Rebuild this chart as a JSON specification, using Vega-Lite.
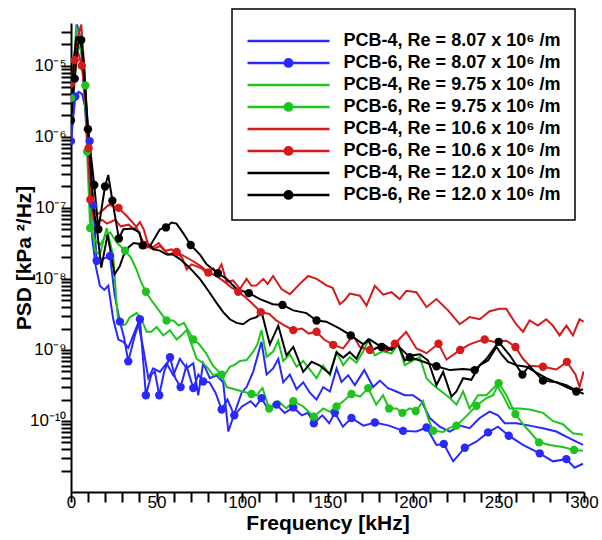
{
"$schema":"https://vega.github.io/schema/vega-lite/v6.json",
"width":513,"height":469,
"autosize":{"type":"none"},
"padding":{"left":71,"top":23,"right":18,"bottom":48},
"background":"white",
"config":{"view":{"stroke":null},"font":"Liberation Sans"},
"datasets":{
"psd":[
{"s":"PCB-4 8.07","f":0,"p":8e-7},{"s":"PCB-4 8.07","f":1.5,"p":6e-6},{"s":"PCB-4 8.07","f":3.5,"p":3.8e-5},{"s":"PCB-4 8.07","f":5.5,"p":2.5e-5},{"s":"PCB-4 8.07","f":7.5,"p":5e-6},{"s":"PCB-4 8.07","f":9.5,"p":8e-7},{"s":"PCB-4 8.07","f":11,"p":1.5e-7},{"s":"PCB-4 8.07","f":12.5,"p":3.6e-8},{"s":"PCB-4 8.07","f":14.5,"p":1.5e-8},{"s":"PCB-4 8.07","f":16.9,"p":8e-9},{"s":"PCB-4 8.07","f":19.5,"p":7e-9},{"s":"PCB-4 8.07","f":21.8,"p":8e-9},{"s":"PCB-4 8.07","f":24.7,"p":2.7e-9},{"s":"PCB-4 8.07","f":27.7,"p":1.4e-9},{"s":"PCB-4 8.07","f":30.6,"p":1.3e-9},{"s":"PCB-4 8.07","f":33.5,"p":1.07e-9},{"s":"PCB-4 8.07","f":36.4,"p":1.6e-9},{"s":"PCB-4 8.07","f":39.3,"p":2.4e-9},{"s":"PCB-4 8.07","f":42.2,"p":1.07e-9},{"s":"PCB-4 8.07","f":45.2,"p":4e-10},{"s":"PCB-4 8.07","f":48.1,"p":5.5e-10},{"s":"PCB-4 8.07","f":52,"p":4.9e-10},{"s":"PCB-4 8.07","f":55.9,"p":6.5e-10},{"s":"PCB-4 8.07","f":59.8,"p":4.4e-10},{"s":"PCB-4 8.07","f":63.7,"p":7.5e-10},{"s":"PCB-4 8.07","f":67.6,"p":5.5e-10},{"s":"PCB-4 8.07","f":71.5,"p":6.5e-10},{"s":"PCB-4 8.07","f":74.4,"p":2.3e-10},{"s":"PCB-4 8.07","f":77.3,"p":6.5e-10},{"s":"PCB-4 8.07","f":81.2,"p":4e-10},{"s":"PCB-4 8.07","f":85.1,"p":4.4e-10},{"s":"PCB-4 8.07","f":89,"p":3.5e-10},{"s":"PCB-4 8.07","f":92,"p":7.1e-11},{"s":"PCB-4 8.07","f":95.9,"p":1.35e-10},{"s":"PCB-4 8.07","f":99.8,"p":2.5e-10},{"s":"PCB-4 8.07","f":102.7,"p":3e-10},{"s":"PCB-4 8.07","f":106.6,"p":5e-10},{"s":"PCB-4 8.07","f":111.4,"p":1.3e-9},{"s":"PCB-4 8.07","f":114.4,"p":4.5e-10},{"s":"PCB-4 8.07","f":118.2,"p":5.5e-10},{"s":"PCB-4 8.07","f":121.2,"p":7.5e-10},{"s":"PCB-4 8.07","f":124.1,"p":3.5e-10},{"s":"PCB-4 8.07","f":128,"p":4.5e-10},{"s":"PCB-4 8.07","f":131.9,"p":2.8e-10},{"s":"PCB-4 8.07","f":135.8,"p":3.5e-10},{"s":"PCB-4 8.07","f":139.7,"p":2.5e-10},{"s":"PCB-4 8.07","f":143.6,"p":2e-10},{"s":"PCB-4 8.07","f":147.5,"p":3e-10},{"s":"PCB-4 8.07","f":151.4,"p":2.6e-10},{"s":"PCB-4 8.07","f":155.3,"p":5.5e-10},{"s":"PCB-4 8.07","f":158.2,"p":3.55e-10},{"s":"PCB-4 8.07","f":162.1,"p":4.4e-10},{"s":"PCB-4 8.07","f":166,"p":3.2e-10},{"s":"PCB-4 8.07","f":171.5,"p":5.2e-10},{"s":"PCB-4 8.07","f":176.7,"p":3e-10},{"s":"PCB-4 8.07","f":180.6,"p":3.7e-10},{"s":"PCB-4 8.07","f":185.4,"p":2.9e-10},{"s":"PCB-4 8.07","f":190.3,"p":2.6e-10},{"s":"PCB-4 8.07","f":195.2,"p":2.3e-10},{"s":"PCB-4 8.07","f":200,"p":2.3e-10},{"s":"PCB-4 8.07","f":204.9,"p":1.9e-10},{"s":"PCB-4 8.07","f":209.8,"p":1.1e-10},{"s":"PCB-4 8.07","f":215.6,"p":8.3e-11},{"s":"PCB-4 8.07","f":221.5,"p":7.1e-11},{"s":"PCB-4 8.07","f":227.3,"p":8.6e-11},{"s":"PCB-4 8.07","f":233.1,"p":7.9e-11},{"s":"PCB-4 8.07","f":239,"p":1.1e-10},{"s":"PCB-4 8.07","f":244.8,"p":1.35e-10},{"s":"PCB-4 8.07","f":249.7,"p":1.2e-10},{"s":"PCB-4 8.07","f":253.6,"p":9.3e-11},{"s":"PCB-4 8.07","f":260.5,"p":9.3e-11},{"s":"PCB-4 8.07","f":268.2,"p":8.6e-11},{"s":"PCB-4 8.07","f":276,"p":7.9e-11},{"s":"PCB-4 8.07","f":283.8,"p":7.1e-11},{"s":"PCB-4 8.07","f":291.6,"p":5.7e-11},{"s":"PCB-4 8.07","f":299.4,"p":4.6e-11},
{"s":"PCB-6 8.07","f":0,"p":8.7e-7},{"s":"PCB-6 8.07","f":2.5,"p":3.7e-6},{"s":"PCB-6 8.07","f":4.5,"p":4.3e-6},{"s":"PCB-6 8.07","f":6.5,"p":4e-6},{"s":"PCB-6 8.07","f":8.5,"p":2.5e-6},{"s":"PCB-6 8.07","f":10.9,"p":8.7e-7},{"s":"PCB-6 8.07","f":13,"p":1.1e-7},{"s":"PCB-6 8.07","f":15,"p":1.8e-8},{"s":"PCB-6 8.07","f":18.5,"p":1.9e-8},{"s":"PCB-6 8.07","f":22.8,"p":2.1e-8},{"s":"PCB-6 8.07","f":25.5,"p":6e-9},{"s":"PCB-6 8.07","f":28.6,"p":2.5e-9},{"s":"PCB-6 8.07","f":31,"p":1.5e-9},{"s":"PCB-6 8.07","f":33.5,"p":6.9e-10},{"s":"PCB-6 8.07","f":37,"p":1.5e-9},{"s":"PCB-6 8.07","f":40.3,"p":2.7e-9},{"s":"PCB-6 8.07","f":43.8,"p":2.3e-10},{"s":"PCB-6 8.07","f":47,"p":4.5e-10},{"s":"PCB-6 8.07","f":49,"p":5e-10},{"s":"PCB-6 8.07","f":51.6,"p":2.3e-10},{"s":"PCB-6 8.07","f":54.5,"p":5e-10},{"s":"PCB-6 8.07","f":57.9,"p":7.9e-10},{"s":"PCB-6 8.07","f":61,"p":4e-10},{"s":"PCB-6 8.07","f":64.1,"p":3e-10},{"s":"PCB-6 8.07","f":67.5,"p":6e-10},{"s":"PCB-6 8.07","f":71.5,"p":2.9e-10},{"s":"PCB-6 8.07","f":74.5,"p":4.5e-10},{"s":"PCB-6 8.07","f":77.3,"p":3.6e-10},{"s":"PCB-6 8.07","f":81,"p":3.5e-10},{"s":"PCB-6 8.07","f":84.5,"p":2.5e-10},{"s":"PCB-6 8.07","f":88.1,"p":1.45e-10},{"s":"PCB-6 8.07","f":91.5,"p":2e-10},{"s":"PCB-6 8.07","f":95.5,"p":1.2e-10},{"s":"PCB-6 8.07","f":100,"p":1.6e-10},{"s":"PCB-6 8.07","f":105,"p":1.9e-10},{"s":"PCB-6 8.07","f":108,"p":1.6e-10},{"s":"PCB-6 8.07","f":111.4,"p":2.1e-10},{"s":"PCB-6 8.07","f":115,"p":1.5e-10},{"s":"PCB-6 8.07","f":120.2,"p":1.7e-10},{"s":"PCB-6 8.07","f":125,"p":1.3e-10},{"s":"PCB-6 8.07","f":130,"p":1.55e-10},{"s":"PCB-6 8.07","f":135,"p":1.2e-10},{"s":"PCB-6 8.07","f":138.5,"p":1.3e-10},{"s":"PCB-6 8.07","f":142,"p":9.3e-11},{"s":"PCB-6 8.07","f":147,"p":1.2e-10},{"s":"PCB-6 8.07","f":151,"p":9.3e-11},{"s":"PCB-6 8.07","f":154.3,"p":1.3e-10},{"s":"PCB-6 8.07","f":159,"p":8.3e-11},{"s":"PCB-6 8.07","f":164,"p":1.1e-10},{"s":"PCB-6 8.07","f":171,"p":8.6e-11},{"s":"PCB-6 8.07","f":177.7,"p":9.5e-11},{"s":"PCB-6 8.07","f":186,"p":8.6e-11},{"s":"PCB-6 8.07","f":194.2,"p":7.25e-11},{"s":"PCB-6 8.07","f":202,"p":7.1e-11},{"s":"PCB-6 8.07","f":207.9,"p":8.1e-11},{"s":"PCB-6 8.07","f":213.7,"p":4.6e-11},{"s":"PCB-6 8.07","f":218,"p":4.75e-11},{"s":"PCB-6 8.07","f":223.5,"p":2.7e-11},{"s":"PCB-6 8.07","f":230.3,"p":4.2e-11},{"s":"PCB-6 8.07","f":237,"p":5.1e-11},{"s":"PCB-6 8.07","f":243.9,"p":6.9e-11},{"s":"PCB-6 8.07","f":249.7,"p":8.3e-11},{"s":"PCB-6 8.07","f":256,"p":6.2e-11},{"s":"PCB-6 8.07","f":264.3,"p":4.6e-11},{"s":"PCB-6 8.07","f":274.1,"p":3.5e-11},{"s":"PCB-6 8.07","f":281.8,"p":2.7e-11},{"s":"PCB-6 8.07","f":289.7,"p":2.9e-11},{"s":"PCB-6 8.07","f":294.5,"p":2.2e-11},{"s":"PCB-6 8.07","f":299.4,"p":2.5e-11},
{"s":"PCB-4 9.75","f":0,"p":1.5e-6},{"s":"PCB-4 9.75","f":1.5,"p":8e-6},{"s":"PCB-4 9.75","f":3,"p":3.5e-5},{"s":"PCB-4 9.75","f":5,"p":2.8e-5},{"s":"PCB-4 9.75","f":7,"p":1e-5},{"s":"PCB-4 9.75","f":9,"p":1.5e-6},{"s":"PCB-4 9.75","f":11,"p":2e-7},{"s":"PCB-4 9.75","f":12.5,"p":5e-8},{"s":"PCB-4 9.75","f":14,"p":2.5e-8},{"s":"PCB-4 9.75","f":17,"p":2.2e-8},{"s":"PCB-4 9.75","f":19,"p":3.5e-8},{"s":"PCB-4 9.75","f":20.9,"p":5.2e-8},{"s":"PCB-4 9.75","f":22.5,"p":3.5e-8},{"s":"PCB-4 9.75","f":24.7,"p":2.1e-8},{"s":"PCB-4 9.75","f":26.5,"p":5e-9},{"s":"PCB-4 9.75","f":27.7,"p":2.4e-9},{"s":"PCB-4 9.75","f":29.6,"p":2.2e-9},{"s":"PCB-4 9.75","f":32,"p":2.3e-9},{"s":"PCB-4 9.75","f":34.5,"p":2.9e-9},{"s":"PCB-4 9.75","f":38.4,"p":3.3e-9},{"s":"PCB-4 9.75","f":41,"p":2.8e-9},{"s":"PCB-4 9.75","f":44.2,"p":1.8e-9},{"s":"PCB-4 9.75","f":47,"p":1.8e-9},{"s":"PCB-4 9.75","f":50.1,"p":2.1e-9},{"s":"PCB-4 9.75","f":54,"p":1.6e-9},{"s":"PCB-4 9.75","f":57.8,"p":1.9e-9},{"s":"PCB-4 9.75","f":61.8,"p":1.4e-9},{"s":"PCB-4 9.75","f":64.5,"p":1.6e-9},{"s":"PCB-4 9.75","f":67.6,"p":1.9e-9},{"s":"PCB-4 9.75","f":70.5,"p":1.2e-9},{"s":"PCB-4 9.75","f":73.5,"p":7.5e-10},{"s":"PCB-4 9.75","f":77.3,"p":6.5e-10},{"s":"PCB-4 9.75","f":80.2,"p":5.5e-10},{"s":"PCB-4 9.75","f":83.2,"p":4.4e-10},{"s":"PCB-4 9.75","f":86,"p":4.6e-10},{"s":"PCB-4 9.75","f":89,"p":4.2e-10},{"s":"PCB-4 9.75","f":92.9,"p":5.8e-10},{"s":"PCB-4 9.75","f":95.8,"p":6.2e-10},{"s":"PCB-4 9.75","f":98.8,"p":7e-10},{"s":"PCB-4 9.75","f":102.7,"p":7.2e-10},{"s":"PCB-4 9.75","f":106.6,"p":9.5e-10},{"s":"PCB-4 9.75","f":109,"p":1.2e-9},{"s":"PCB-4 9.75","f":111.4,"p":1.9e-9},{"s":"PCB-4 9.75","f":114.4,"p":8e-10},{"s":"PCB-4 9.75","f":118.2,"p":9.5e-10},{"s":"PCB-4 9.75","f":121.2,"p":1.35e-9},{"s":"PCB-4 9.75","f":124.1,"p":7e-10},{"s":"PCB-4 9.75","f":128,"p":8.7e-10},{"s":"PCB-4 9.75","f":131.9,"p":5.8e-10},{"s":"PCB-4 9.75","f":135.8,"p":7e-10},{"s":"PCB-4 9.75","f":139.7,"p":5.3e-10},{"s":"PCB-4 9.75","f":143.6,"p":4e-10},{"s":"PCB-4 9.75","f":147.5,"p":6e-10},{"s":"PCB-4 9.75","f":151.4,"p":4.4e-10},{"s":"PCB-4 9.75","f":155.3,"p":9.3e-10},{"s":"PCB-4 9.75","f":159.2,"p":6.1e-10},{"s":"PCB-4 9.75","f":163,"p":7.9e-10},{"s":"PCB-4 9.75","f":166.9,"p":6.6e-10},{"s":"PCB-4 9.75","f":170.9,"p":9.6e-10},{"s":"PCB-4 9.75","f":173.8,"p":1.36e-9},{"s":"PCB-4 9.75","f":177.7,"p":8.4e-10},{"s":"PCB-4 9.75","f":182.5,"p":9.6e-10},{"s":"PCB-4 9.75","f":187.4,"p":8.9e-10},{"s":"PCB-4 9.75","f":191.3,"p":1.2e-9},{"s":"PCB-4 9.75","f":195.2,"p":6.1e-10},{"s":"PCB-4 9.75","f":200,"p":7.1e-10},{"s":"PCB-4 9.75","f":204,"p":7.9e-10},{"s":"PCB-4 9.75","f":207.9,"p":4e-10},{"s":"PCB-4 9.75","f":211.8,"p":3.2e-10},{"s":"PCB-4 9.75","f":216.7,"p":2.6e-10},{"s":"PCB-4 9.75","f":221.5,"p":2.1e-10},{"s":"PCB-4 9.75","f":225.4,"p":1.7e-10},{"s":"PCB-4 9.75","f":229.3,"p":2.6e-10},{"s":"PCB-4 9.75","f":233.1,"p":1.5e-10},{"s":"PCB-4 9.75","f":238,"p":2.3e-10},{"s":"PCB-4 9.75","f":242.9,"p":2.3e-10},{"s":"PCB-4 9.75","f":248.8,"p":3.2e-10},{"s":"PCB-4 9.75","f":252.6,"p":2.3e-10},{"s":"PCB-4 9.75","f":256.5,"p":1.5e-10},{"s":"PCB-4 9.75","f":262.4,"p":1.5e-10},{"s":"PCB-4 9.75","f":268.2,"p":1.45e-10},{"s":"PCB-4 9.75","f":276,"p":1.3e-10},{"s":"PCB-4 9.75","f":281.8,"p":1e-10},{"s":"PCB-4 9.75","f":287.6,"p":9e-11},{"s":"PCB-4 9.75","f":293.5,"p":6.7e-11},{"s":"PCB-4 9.75","f":299.4,"p":6.4e-11},
{"s":"PCB-6 9.75","f":0,"p":3.5e-6},{"s":"PCB-6 9.75","f":2.2,"p":8e-6},{"s":"PCB-6 9.75","f":4.3,"p":2e-5},{"s":"PCB-6 9.75","f":6.3,"p":1.5e-5},{"s":"PCB-6 9.75","f":8.4,"p":5.3e-6},{"s":"PCB-6 9.75","f":9.4,"p":6.2e-7},{"s":"PCB-6 9.75","f":11.2,"p":5.2e-8},{"s":"PCB-6 9.75","f":14,"p":3.5e-8},{"s":"PCB-6 9.75","f":17,"p":3e-8},{"s":"PCB-6 9.75","f":20,"p":4e-8},{"s":"PCB-6 9.75","f":23,"p":4.5e-8},{"s":"PCB-6 9.75","f":27,"p":3.2e-8},{"s":"PCB-6 9.75","f":31.6,"p":2.5e-8},{"s":"PCB-6 9.75","f":35,"p":2e-8},{"s":"PCB-6 9.75","f":38,"p":1.4e-8},{"s":"PCB-6 9.75","f":41,"p":9e-9},{"s":"PCB-6 9.75","f":43.8,"p":6.6e-9},{"s":"PCB-6 9.75","f":47,"p":5e-9},{"s":"PCB-6 9.75","f":50,"p":4e-9},{"s":"PCB-6 9.75","f":53,"p":3.2e-9},{"s":"PCB-6 9.75","f":55.9,"p":2.6e-9},{"s":"PCB-6 9.75","f":60,"p":2.6e-9},{"s":"PCB-6 9.75","f":63,"p":2.2e-9},{"s":"PCB-6 9.75","f":66,"p":2.4e-9},{"s":"PCB-6 9.75","f":69,"p":1.8e-9},{"s":"PCB-6 9.75","f":71.5,"p":1.4e-9},{"s":"PCB-6 9.75","f":75,"p":1.2e-9},{"s":"PCB-6 9.75","f":79,"p":9e-10},{"s":"PCB-6 9.75","f":83,"p":6e-10},{"s":"PCB-6 9.75","f":88,"p":4.5e-10},{"s":"PCB-6 9.75","f":91,"p":3e-10},{"s":"PCB-6 9.75","f":105.6,"p":2.4e-10},{"s":"PCB-6 9.75","f":108.5,"p":2.3e-10},{"s":"PCB-6 9.75","f":112,"p":2.9e-10},{"s":"PCB-6 9.75","f":115.9,"p":1.5e-10},{"s":"PCB-6 9.75","f":121.2,"p":1.9e-10},{"s":"PCB-6 9.75","f":126,"p":1.5e-10},{"s":"PCB-6 9.75","f":130,"p":1.9e-10},{"s":"PCB-6 9.75","f":135.8,"p":1.6e-10},{"s":"PCB-6 9.75","f":142,"p":1.15e-10},{"s":"PCB-6 9.75","f":147.5,"p":1.5e-10},{"s":"PCB-6 9.75","f":151.4,"p":1.35e-10},{"s":"PCB-6 9.75","f":155.3,"p":1.6e-10},{"s":"PCB-6 9.75","f":159.2,"p":1.9e-10},{"s":"PCB-6 9.75","f":164,"p":2.4e-10},{"s":"PCB-6 9.75","f":169,"p":2.2e-10},{"s":"PCB-6 9.75","f":173.8,"p":2.9e-10},{"s":"PCB-6 9.75","f":178.5,"p":1.7e-10},{"s":"PCB-6 9.75","f":182.5,"p":2.3e-10},{"s":"PCB-6 9.75","f":186,"p":1.5e-10},{"s":"PCB-6 9.75","f":190.3,"p":1.5e-10},{"s":"PCB-6 9.75","f":193.8,"p":1.3e-10},{"s":"PCB-6 9.75","f":198.1,"p":1.5e-10},{"s":"PCB-6 9.75","f":201.6,"p":1.38e-10},{"s":"PCB-6 9.75","f":205.9,"p":1.9e-10},{"s":"PCB-6 9.75","f":208.8,"p":1.1e-10},{"s":"PCB-6 9.75","f":211.8,"p":7.3e-11},{"s":"PCB-6 9.75","f":217.6,"p":7e-11},{"s":"PCB-6 9.75","f":221.5,"p":8e-11},{"s":"PCB-6 9.75","f":225.4,"p":8.6e-11},{"s":"PCB-6 9.75","f":231.2,"p":1.17e-10},{"s":"PCB-6 9.75","f":237.1,"p":1.64e-10},{"s":"PCB-6 9.75","f":243,"p":2.1e-10},{"s":"PCB-6 9.75","f":246.9,"p":2.3e-10},{"s":"PCB-6 9.75","f":250.1,"p":3.4e-10},{"s":"PCB-6 9.75","f":254.6,"p":2.3e-10},{"s":"PCB-6 9.75","f":259.9,"p":1.25e-10},{"s":"PCB-6 9.75","f":264.3,"p":9e-11},{"s":"PCB-6 9.75","f":268.2,"p":7.1e-11},{"s":"PCB-6 9.75","f":273.7,"p":5e-11},{"s":"PCB-6 9.75","f":279.9,"p":4.6e-11},{"s":"PCB-6 9.75","f":287.6,"p":4.3e-11},{"s":"PCB-6 9.75","f":294.2,"p":3.9e-11},{"s":"PCB-6 9.75","f":299.4,"p":3.8e-11},
{"s":"PCB-4 10.6","f":0,"p":3e-6},{"s":"PCB-4 10.6","f":2,"p":1.5e-5},{"s":"PCB-4 10.6","f":4,"p":2.5e-5},{"s":"PCB-4 10.6","f":6,"p":3.8e-5},{"s":"PCB-4 10.6","f":8,"p":8e-6},{"s":"PCB-4 10.6","f":10,"p":5e-7},{"s":"PCB-4 10.6","f":12,"p":1.2e-7},{"s":"PCB-4 10.6","f":13.2,"p":6.8e-8},{"s":"PCB-4 10.6","f":16,"p":6.2e-8},{"s":"PCB-4 10.6","f":18.1,"p":6.8e-8},{"s":"PCB-4 10.6","f":21,"p":6e-8},{"s":"PCB-4 10.6","f":25.9,"p":6.8e-8},{"s":"PCB-4 10.6","f":29,"p":5.5e-8},{"s":"PCB-4 10.6","f":33.7,"p":5.8e-8},{"s":"PCB-4 10.6","f":37,"p":5e-8},{"s":"PCB-4 10.6","f":40.3,"p":6.3e-8},{"s":"PCB-4 10.6","f":42.5,"p":5e-8},{"s":"PCB-4 10.6","f":45.2,"p":3e-8},{"s":"PCB-4 10.6","f":48.1,"p":2.8e-8},{"s":"PCB-4 10.6","f":51.3,"p":3.2e-8},{"s":"PCB-4 10.6","f":55,"p":2.5e-8},{"s":"PCB-4 10.6","f":59,"p":2.6e-8},{"s":"PCB-4 10.6","f":62,"p":2.3e-8},{"s":"PCB-4 10.6","f":65,"p":2e-8},{"s":"PCB-4 10.6","f":67.6,"p":1.36e-8},{"s":"PCB-4 10.6","f":70.5,"p":1.6e-8},{"s":"PCB-4 10.6","f":73.5,"p":1.5e-8},{"s":"PCB-4 10.6","f":76.5,"p":1.4e-8},{"s":"PCB-4 10.6","f":79.4,"p":1.2e-8},{"s":"PCB-4 10.6","f":83.3,"p":1.4e-8},{"s":"PCB-4 10.6","f":85.2,"p":1.2e-8},{"s":"PCB-4 10.6","f":88,"p":1.6e-8},{"s":"PCB-4 10.6","f":91,"p":9e-9},{"s":"PCB-4 10.6","f":94.8,"p":9.5e-9},{"s":"PCB-4 10.6","f":98.8,"p":7.2e-9},{"s":"PCB-4 10.6","f":102.7,"p":1e-8},{"s":"PCB-4 10.6","f":105.5,"p":8e-9},{"s":"PCB-4 10.6","f":108.5,"p":8.1e-9},{"s":"PCB-4 10.6","f":112.4,"p":1e-8},{"s":"PCB-4 10.6","f":115,"p":8.5e-9},{"s":"PCB-4 10.6","f":118.2,"p":1.1e-8},{"s":"PCB-4 10.6","f":123.1,"p":7.2e-9},{"s":"PCB-4 10.6","f":128,"p":6.1e-9},{"s":"PCB-4 10.6","f":133.8,"p":8.5e-9},{"s":"PCB-4 10.6","f":138.7,"p":1.1e-8},{"s":"PCB-4 10.6","f":143.6,"p":1e-8},{"s":"PCB-4 10.6","f":149.4,"p":8.1e-9},{"s":"PCB-4 10.6","f":153,"p":7.5e-9},{"s":"PCB-4 10.6","f":157.2,"p":4.4e-9},{"s":"PCB-4 10.6","f":160,"p":5e-9},{"s":"PCB-4 10.6","f":163,"p":6.2e-9},{"s":"PCB-4 10.6","f":168.9,"p":5.8e-9},{"s":"PCB-4 10.6","f":172.8,"p":4.2e-9},{"s":"PCB-4 10.6","f":177.7,"p":8e-9},{"s":"PCB-4 10.6","f":182.5,"p":6e-9},{"s":"PCB-4 10.6","f":187.4,"p":6.5e-9},{"s":"PCB-4 10.6","f":192.2,"p":5.2e-9},{"s":"PCB-4 10.6","f":196.1,"p":6.8e-9},{"s":"PCB-4 10.6","f":202,"p":6.5e-9},{"s":"PCB-4 10.6","f":207.9,"p":4e-9},{"s":"PCB-4 10.6","f":213.7,"p":5.2e-9},{"s":"PCB-4 10.6","f":220.5,"p":3.6e-9},{"s":"PCB-4 10.6","f":227.3,"p":2.3e-9},{"s":"PCB-4 10.6","f":233.1,"p":2.9e-9},{"s":"PCB-4 10.6","f":239,"p":2.7e-9},{"s":"PCB-4 10.6","f":244.8,"p":3.5e-9},{"s":"PCB-4 10.6","f":250.6,"p":3.8e-9},{"s":"PCB-4 10.6","f":254.5,"p":3.8e-9},{"s":"PCB-4 10.6","f":260.3,"p":2.3e-9},{"s":"PCB-4 10.6","f":264.3,"p":1.8e-9},{"s":"PCB-4 10.6","f":268.2,"p":2.6e-9},{"s":"PCB-4 10.6","f":273,"p":2.2e-9},{"s":"PCB-4 10.6","f":277.9,"p":2.7e-9},{"s":"PCB-4 10.6","f":281.8,"p":2.2e-9},{"s":"PCB-4 10.6","f":285.7,"p":1.6e-9},{"s":"PCB-4 10.6","f":289.7,"p":2.2e-9},{"s":"PCB-4 10.6","f":293.5,"p":1.6e-9},{"s":"PCB-4 10.6","f":297.4,"p":2.7e-9},{"s":"PCB-4 10.6","f":299.8,"p":2.5e-9},
{"s":"PCB-6 10.6","f":0,"p":5.6e-6},{"s":"PCB-6 10.6","f":2.2,"p":1.2e-5},{"s":"PCB-6 10.6","f":4.3,"p":1.5e-5},{"s":"PCB-6 10.6","f":6.3,"p":1e-5},{"s":"PCB-6 10.6","f":8.3,"p":4e-6},{"s":"PCB-6 10.6","f":10.3,"p":6.9e-7},{"s":"PCB-6 10.6","f":11.3,"p":1.3e-7},{"s":"PCB-6 10.6","f":15,"p":8e-8},{"s":"PCB-6 10.6","f":18,"p":9e-8},{"s":"PCB-6 10.6","f":22,"p":1.1e-7},{"s":"PCB-6 10.6","f":27.8,"p":1e-7},{"s":"PCB-6 10.6","f":33,"p":7.5e-8},{"s":"PCB-6 10.6","f":38,"p":5.5e-8},{"s":"PCB-6 10.6","f":43,"p":3e-8},{"s":"PCB-6 10.6","f":48,"p":2.6e-8},{"s":"PCB-6 10.6","f":52,"p":2.9e-8},{"s":"PCB-6 10.6","f":57,"p":2.2e-8},{"s":"PCB-6 10.6","f":61.8,"p":2.4e-8},{"s":"PCB-6 10.6","f":66,"p":2.1e-8},{"s":"PCB-6 10.6","f":71,"p":1.8e-8},{"s":"PCB-6 10.6","f":76,"p":1.5e-8},{"s":"PCB-6 10.6","f":80.3,"p":1.23e-8},{"s":"PCB-6 10.6","f":85,"p":1.1e-8},{"s":"PCB-6 10.6","f":90,"p":9e-9},{"s":"PCB-6 10.6","f":94,"p":7.5e-9},{"s":"PCB-6 10.6","f":97.8,"p":6.6e-9},{"s":"PCB-6 10.6","f":102,"p":5.5e-9},{"s":"PCB-6 10.6","f":106,"p":4.5e-9},{"s":"PCB-6 10.6","f":111,"p":3.4e-9},{"s":"PCB-6 10.6","f":116,"p":3.2e-9},{"s":"PCB-6 10.6","f":120,"p":2.6e-9},{"s":"PCB-6 10.6","f":125,"p":2.2e-9},{"s":"PCB-6 10.6","f":130,"p":1.9e-9},{"s":"PCB-6 10.6","f":135,"p":2e-9},{"s":"PCB-6 10.6","f":139,"p":1.7e-9},{"s":"PCB-6 10.6","f":143.6,"p":1.8e-9},{"s":"PCB-6 10.6","f":148,"p":1.4e-9},{"s":"PCB-6 10.6","f":153.3,"p":1.18e-9},{"s":"PCB-6 10.6","f":159.2,"p":1.05e-9},{"s":"PCB-6 10.6","f":165,"p":1.6e-9},{"s":"PCB-6 10.6","f":168.9,"p":1.1e-9},{"s":"PCB-6 10.6","f":174.8,"p":1e-9},{"s":"PCB-6 10.6","f":180.6,"p":1.1e-9},{"s":"PCB-6 10.6","f":184.5,"p":9.5e-10},{"s":"PCB-6 10.6","f":189.4,"p":1.22e-9},{"s":"PCB-6 10.6","f":196,"p":1.8e-9},{"s":"PCB-6 10.6","f":202,"p":1.05e-9},{"s":"PCB-6 10.6","f":207.9,"p":9e-10},{"s":"PCB-6 10.6","f":214.9,"p":1.22e-9},{"s":"PCB-6 10.6","f":219.6,"p":7.3e-10},{"s":"PCB-6 10.6","f":227.6,"p":1e-9},{"s":"PCB-6 10.6","f":233.1,"p":1.2e-9},{"s":"PCB-6 10.6","f":237,"p":1.3e-9},{"s":"PCB-6 10.6","f":241.9,"p":1.4e-9},{"s":"PCB-6 10.6","f":246.8,"p":1.3e-9},{"s":"PCB-6 10.6","f":254.6,"p":1.35e-9},{"s":"PCB-6 10.6","f":259.9,"p":1.1e-9},{"s":"PCB-6 10.6","f":264.3,"p":7.5e-10},{"s":"PCB-6 10.6","f":268.2,"p":6e-10},{"s":"PCB-6 10.6","f":276,"p":5.8e-10},{"s":"PCB-6 10.6","f":283.8,"p":5.3e-10},{"s":"PCB-6 10.6","f":290,"p":6.8e-10},{"s":"PCB-6 10.6","f":295,"p":4.5e-10},{"s":"PCB-6 10.6","f":297.4,"p":3e-10},{"s":"PCB-6 10.6","f":299.8,"p":5e-10},
{"s":"PCB-4 12.0","f":0,"p":2e-6},{"s":"PCB-4 12.0","f":1.5,"p":1e-5},{"s":"PCB-4 12.0","f":3,"p":2.5e-5},{"s":"PCB-4 12.0","f":5,"p":2.5e-5},{"s":"PCB-4 12.0","f":7,"p":1.5e-5},{"s":"PCB-4 12.0","f":9,"p":3e-6},{"s":"PCB-4 12.0","f":11,"p":5e-7},{"s":"PCB-4 12.0","f":13.2,"p":9.4e-8},{"s":"PCB-4 12.0","f":15.2,"p":5e-8},{"s":"PCB-4 12.0","f":17.7,"p":1.44e-8},{"s":"PCB-4 12.0","f":21.4,"p":4.2e-8},{"s":"PCB-4 12.0","f":25.5,"p":1.16e-8},{"s":"PCB-4 12.0","f":28.5,"p":1.5e-8},{"s":"PCB-4 12.0","f":30.6,"p":2.1e-8},{"s":"PCB-4 12.0","f":33.7,"p":2.8e-8},{"s":"PCB-4 12.0","f":36.6,"p":3.2e-8},{"s":"PCB-4 12.0","f":40.3,"p":3.1e-8},{"s":"PCB-4 12.0","f":43.4,"p":3.1e-8},{"s":"PCB-4 12.0","f":46,"p":3e-8},{"s":"PCB-4 12.0","f":48.3,"p":2.6e-8},{"s":"PCB-4 12.0","f":52,"p":2.5e-8},{"s":"PCB-4 12.0","f":55.9,"p":2.2e-8},{"s":"PCB-4 12.0","f":59.8,"p":2.2e-8},{"s":"PCB-4 12.0","f":63.7,"p":1.9e-8},{"s":"PCB-4 12.0","f":68.6,"p":1.5e-8},{"s":"PCB-4 12.0","f":75.4,"p":1e-8},{"s":"PCB-4 12.0","f":80.3,"p":6.8e-9},{"s":"PCB-4 12.0","f":85.1,"p":4.6e-9},{"s":"PCB-4 12.0","f":89,"p":3.4e-9},{"s":"PCB-4 12.0","f":92.9,"p":2.7e-9},{"s":"PCB-4 12.0","f":96.8,"p":2.4e-9},{"s":"PCB-4 12.0","f":100.6,"p":2.3e-9},{"s":"PCB-4 12.0","f":104.6,"p":2.7e-9},{"s":"PCB-4 12.0","f":108.5,"p":2.9e-9},{"s":"PCB-4 12.0","f":111.5,"p":3.4e-9},{"s":"PCB-4 12.0","f":114.4,"p":1.8e-9},{"s":"PCB-4 12.0","f":116.3,"p":1.2e-9},{"s":"PCB-4 12.0","f":121.2,"p":2.2e-9},{"s":"PCB-4 12.0","f":126,"p":8.4e-10},{"s":"PCB-4 12.0","f":130,"p":1.1e-9},{"s":"PCB-4 12.0","f":135.8,"p":4.9e-10},{"s":"PCB-4 12.0","f":140.7,"p":6.8e-10},{"s":"PCB-4 12.0","f":145.6,"p":6e-10},{"s":"PCB-4 12.0","f":151.4,"p":4.6e-10},{"s":"PCB-4 12.0","f":155.3,"p":9.3e-10},{"s":"PCB-4 12.0","f":159.2,"p":7.8e-10},{"s":"PCB-4 12.0","f":163,"p":9.3e-10},{"s":"PCB-4 12.0","f":166.9,"p":7.5e-10},{"s":"PCB-4 12.0","f":170.9,"p":1.2e-9},{"s":"PCB-4 12.0","f":173.8,"p":1.4e-9},{"s":"PCB-4 12.0","f":176.7,"p":1e-9},{"s":"PCB-4 12.0","f":182.5,"p":1.2e-9},{"s":"PCB-4 12.0","f":187.4,"p":1e-9},{"s":"PCB-4 12.0","f":191.3,"p":1.2e-9},{"s":"PCB-4 12.0","f":195.2,"p":7.1e-10},{"s":"PCB-4 12.0","f":200,"p":8.4e-10},{"s":"PCB-4 12.0","f":204,"p":8.7e-10},{"s":"PCB-4 12.0","f":208.8,"p":7.1e-10},{"s":"PCB-4 12.0","f":213.7,"p":3.2e-10},{"s":"PCB-4 12.0","f":217.6,"p":4.9e-10},{"s":"PCB-4 12.0","f":222.5,"p":2.2e-10},{"s":"PCB-4 12.0","f":225.4,"p":2.6e-10},{"s":"PCB-4 12.0","f":229.3,"p":4e-10},{"s":"PCB-4 12.0","f":234.1,"p":3.8e-10},{"s":"PCB-4 12.0","f":239,"p":6.1e-10},{"s":"PCB-4 12.0","f":243.9,"p":7.1e-10},{"s":"PCB-4 12.0","f":248.8,"p":1.1e-9},{"s":"PCB-4 12.0","f":251.7,"p":8.7e-10},{"s":"PCB-4 12.0","f":255.6,"p":6.8e-10},{"s":"PCB-4 12.0","f":260.5,"p":6.1e-10},{"s":"PCB-4 12.0","f":266.3,"p":5.8e-10},{"s":"PCB-4 12.0","f":272.1,"p":4.8e-10},{"s":"PCB-4 12.0","f":278,"p":4e-10},{"s":"PCB-4 12.0","f":283.8,"p":3.5e-10},{"s":"PCB-4 12.0","f":289.7,"p":3.2e-10},{"s":"PCB-4 12.0","f":295.5,"p":2.7e-10},{"s":"PCB-4 12.0","f":299.8,"p":2.4e-10},
{"s":"PCB-6 12.0","f":0,"p":1.7e-6},{"s":"PCB-6 12.0","f":2.2,"p":6.6e-6},{"s":"PCB-6 12.0","f":4,"p":2e-5},{"s":"PCB-6 12.0","f":6,"p":2.3e-5},{"s":"PCB-6 12.0","f":9.9,"p":1.28e-6},{"s":"PCB-6 12.0","f":13.6,"p":2.1e-7},{"s":"PCB-6 12.0","f":16,"p":5e-8},{"s":"PCB-6 12.0","f":19.9,"p":2e-7},{"s":"PCB-6 12.0","f":21.8,"p":2.9e-7},{"s":"PCB-6 12.0","f":24.2,"p":1.26e-7},{"s":"PCB-6 12.0","f":28,"p":3.7e-8},{"s":"PCB-6 12.0","f":30.6,"p":5e-8},{"s":"PCB-6 12.0","f":36,"p":5.1e-8},{"s":"PCB-6 12.0","f":40,"p":4.5e-8},{"s":"PCB-6 12.0","f":41.9,"p":2.96e-8},{"s":"PCB-6 12.0","f":46.2,"p":2.9e-8},{"s":"PCB-6 12.0","f":52,"p":5e-8},{"s":"PCB-6 12.0","f":55.5,"p":5.3e-8},{"s":"PCB-6 12.0","f":58.8,"p":6.2e-8},{"s":"PCB-6 12.0","f":61.7,"p":6e-8},{"s":"PCB-6 12.0","f":65.6,"p":4.4e-8},{"s":"PCB-6 12.0","f":70,"p":3e-8},{"s":"PCB-6 12.0","f":75.4,"p":2.2e-8},{"s":"PCB-6 12.0","f":79.3,"p":1.6e-8},{"s":"PCB-6 12.0","f":85.9,"p":1.2e-8},{"s":"PCB-6 12.0","f":91,"p":1e-8},{"s":"PCB-6 12.0","f":96.8,"p":7.2e-9},{"s":"PCB-6 12.0","f":104,"p":6.3e-9},{"s":"PCB-6 12.0","f":110.5,"p":5.2e-9},{"s":"PCB-6 12.0","f":118,"p":4.4e-9},{"s":"PCB-6 12.0","f":123.7,"p":4.3e-9},{"s":"PCB-6 12.0","f":130,"p":3.6e-9},{"s":"PCB-6 12.0","f":137.7,"p":3.3e-9},{"s":"PCB-6 12.0","f":143.6,"p":2.6e-9},{"s":"PCB-6 12.0","f":149.3,"p":2.5e-9},{"s":"PCB-6 12.0","f":157.2,"p":2e-9},{"s":"PCB-6 12.0","f":163.6,"p":1.6e-9},{"s":"PCB-6 12.0","f":170.9,"p":1.2e-9},{"s":"PCB-6 12.0","f":174.8,"p":1.4e-9},{"s":"PCB-6 12.0","f":181.6,"p":1.1e-9},{"s":"PCB-6 12.0","f":186.4,"p":1e-9},{"s":"PCB-6 12.0","f":190.3,"p":1.2e-9},{"s":"PCB-6 12.0","f":198.1,"p":7.9e-10},{"s":"PCB-6 12.0","f":204,"p":7.1e-10},{"s":"PCB-6 12.0","f":213.7,"p":5.9e-10},{"s":"PCB-6 12.0","f":221.5,"p":5.2e-10},{"s":"PCB-6 12.0","f":229.3,"p":5.4e-10},{"s":"PCB-6 12.0","f":236.1,"p":5.2e-10},{"s":"PCB-6 12.0","f":243,"p":7.5e-10},{"s":"PCB-6 12.0","f":250.1,"p":1.3e-9},{"s":"PCB-6 12.0","f":256.6,"p":8.4e-10},{"s":"PCB-6 12.0","f":264,"p":4.5e-10},{"s":"PCB-6 12.0","f":268,"p":6e-10},{"s":"PCB-6 12.0","f":276,"p":3.7e-10},{"s":"PCB-6 12.0","f":283.9,"p":3.5e-10},{"s":"PCB-6 12.0","f":289.7,"p":3e-10},{"s":"PCB-6 12.0","f":295.5,"p":2.6e-10},{"s":"PCB-6 12.0","f":299.4,"p":2.8e-10}
],
"markers":[
{"s":"PCB-6 8.07","f":0,"p":8.7e-7},{"s":"PCB-6 8.07","f":2.5,"p":3.7e-6},{"s":"PCB-6 8.07","f":10.9,"p":8.7e-7},{"s":"PCB-6 8.07","f":13,"p":1.1e-7},{"s":"PCB-6 8.07","f":15,"p":1.8e-8},{"s":"PCB-6 8.07","f":22.8,"p":2.1e-8},{"s":"PCB-6 8.07","f":28.6,"p":2.5e-9},{"s":"PCB-6 8.07","f":33.5,"p":6.9e-10},{"s":"PCB-6 8.07","f":40.3,"p":2.7e-9},{"s":"PCB-6 8.07","f":43.8,"p":2.3e-10},{"s":"PCB-6 8.07","f":51.6,"p":2.3e-10},{"s":"PCB-6 8.07","f":57.9,"p":7.9e-10},{"s":"PCB-6 8.07","f":64.1,"p":3e-10},{"s":"PCB-6 8.07","f":71.5,"p":2.9e-10},{"s":"PCB-6 8.07","f":77.3,"p":3.6e-10},{"s":"PCB-6 8.07","f":88.1,"p":1.45e-10},{"s":"PCB-6 8.07","f":95.5,"p":1.2e-10},{"s":"PCB-6 8.07","f":111.4,"p":2.1e-10},{"s":"PCB-6 8.07","f":120.2,"p":1.7e-10},{"s":"PCB-6 8.07","f":130,"p":1.55e-10},{"s":"PCB-6 8.07","f":142,"p":9.3e-11},{"s":"PCB-6 8.07","f":154.3,"p":1.3e-10},{"s":"PCB-6 8.07","f":164,"p":1.1e-10},{"s":"PCB-6 8.07","f":177.7,"p":9.5e-11},{"s":"PCB-6 8.07","f":194.2,"p":7.25e-11},{"s":"PCB-6 8.07","f":207.9,"p":8.1e-11},{"s":"PCB-6 8.07","f":218,"p":4.75e-11},{"s":"PCB-6 8.07","f":230.3,"p":4.2e-11},{"s":"PCB-6 8.07","f":243.9,"p":6.9e-11},{"s":"PCB-6 8.07","f":256,"p":6.2e-11},{"s":"PCB-6 8.07","f":274.1,"p":3.5e-11},{"s":"PCB-6 8.07","f":289.7,"p":2.9e-11},
{"s":"PCB-6 9.75","f":0,"p":3.5e-6},{"s":"PCB-6 9.75","f":8.4,"p":5.3e-6},{"s":"PCB-6 9.75","f":9.4,"p":6.2e-7},{"s":"PCB-6 9.75","f":11.2,"p":5.2e-8},{"s":"PCB-6 9.75","f":31.6,"p":2.5e-8},{"s":"PCB-6 9.75","f":43.8,"p":6.6e-9},{"s":"PCB-6 9.75","f":55.9,"p":2.6e-9},{"s":"PCB-6 9.75","f":71.5,"p":1.4e-9},{"s":"PCB-6 9.75","f":88,"p":4.5e-10},{"s":"PCB-6 9.75","f":105.6,"p":2.4e-10},{"s":"PCB-6 9.75","f":115.9,"p":1.5e-10},{"s":"PCB-6 9.75","f":130,"p":1.9e-10},{"s":"PCB-6 9.75","f":142,"p":1.15e-10},{"s":"PCB-6 9.75","f":155.3,"p":1.6e-10},{"s":"PCB-6 9.75","f":164,"p":2.4e-10},{"s":"PCB-6 9.75","f":173.8,"p":2.9e-10},{"s":"PCB-6 9.75","f":186,"p":1.5e-10},{"s":"PCB-6 9.75","f":193.8,"p":1.3e-10},{"s":"PCB-6 9.75","f":201.6,"p":1.38e-10},{"s":"PCB-6 9.75","f":211.8,"p":7.3e-11},{"s":"PCB-6 9.75","f":225.4,"p":8.6e-11},{"s":"PCB-6 9.75","f":237.1,"p":1.64e-10},{"s":"PCB-6 9.75","f":250.1,"p":3.4e-10},{"s":"PCB-6 9.75","f":259.9,"p":1.25e-10},{"s":"PCB-6 9.75","f":273.7,"p":5e-11},{"s":"PCB-6 9.75","f":294.2,"p":3.9e-11},
{"s":"PCB-6 10.6","f":0,"p":5.6e-6},{"s":"PCB-6 10.6","f":2.2,"p":1.2e-5},{"s":"PCB-6 10.6","f":6.3,"p":1e-5},{"s":"PCB-6 10.6","f":10.3,"p":6.9e-7},{"s":"PCB-6 10.6","f":11.3,"p":1.3e-7},{"s":"PCB-6 10.6","f":27.8,"p":1e-7},{"s":"PCB-6 10.6","f":43,"p":3e-8},{"s":"PCB-6 10.6","f":61.8,"p":2.4e-8},{"s":"PCB-6 10.6","f":80.3,"p":1.23e-8},{"s":"PCB-6 10.6","f":97.8,"p":6.6e-9},{"s":"PCB-6 10.6","f":111,"p":3.4e-9},{"s":"PCB-6 10.6","f":130,"p":1.9e-9},{"s":"PCB-6 10.6","f":143.6,"p":1.8e-9},{"s":"PCB-6 10.6","f":153.3,"p":1.18e-9},{"s":"PCB-6 10.6","f":174.8,"p":1e-9},{"s":"PCB-6 10.6","f":189.4,"p":1.22e-9},{"s":"PCB-6 10.6","f":214.9,"p":1.22e-9},{"s":"PCB-6 10.6","f":227.6,"p":1e-9},{"s":"PCB-6 10.6","f":241.9,"p":1.4e-9},{"s":"PCB-6 10.6","f":259.9,"p":1.1e-9},{"s":"PCB-6 10.6","f":276,"p":5.8e-10},{"s":"PCB-6 10.6","f":290,"p":6.8e-10},
{"s":"PCB-6 12.0","f":0,"p":1.7e-6},{"s":"PCB-6 12.0","f":2.2,"p":6.6e-6},{"s":"PCB-6 12.0","f":6,"p":2.3e-5},{"s":"PCB-6 12.0","f":9.9,"p":1.28e-6},{"s":"PCB-6 12.0","f":13.6,"p":2.1e-7},{"s":"PCB-6 12.0","f":16,"p":5e-8},{"s":"PCB-6 12.0","f":19.9,"p":2e-7},{"s":"PCB-6 12.0","f":24.2,"p":1.26e-7},{"s":"PCB-6 12.0","f":28,"p":3.7e-8},{"s":"PCB-6 12.0","f":41.9,"p":2.96e-8},{"s":"PCB-6 12.0","f":55.5,"p":5.3e-8},{"s":"PCB-6 12.0","f":70,"p":3e-8},{"s":"PCB-6 12.0","f":85.9,"p":1.2e-8},{"s":"PCB-6 12.0","f":104,"p":6.3e-9},{"s":"PCB-6 12.0","f":123.7,"p":4.3e-9},{"s":"PCB-6 12.0","f":143.6,"p":2.6e-9},{"s":"PCB-6 12.0","f":163.6,"p":1.6e-9},{"s":"PCB-6 12.0","f":181.6,"p":1.1e-9},{"s":"PCB-6 12.0","f":198.1,"p":7.9e-10},{"s":"PCB-6 12.0","f":213.7,"p":5.9e-10},{"s":"PCB-6 12.0","f":236.1,"p":5.2e-10},{"s":"PCB-6 12.0","f":250.1,"p":1.3e-9},{"s":"PCB-6 12.0","f":264,"p":4.5e-10},{"s":"PCB-6 12.0","f":276,"p":3.7e-10},{"s":"PCB-6 12.0","f":295.5,"p":2.6e-10}
]
},
"layer":[
{"data":{"name":"psd"},
 "mark":{"type":"line","strokeWidth":2,"clip":true},
 "encoding":{
  "x":{"field":"f","type":"quantitative","scale":{"domain":[0,300],"nice":false,"zero":false},
   "axis":{"values":[0,10,20,30,40,50,60,70,80,90,100,110,120,130,140,150,160,170,180,190,200,210,220,230,240,250,260,270,280,290,300],
     "labelExpr":"datum.value % 50 == 0 ? datum.label : ''","labelOverlap":false,
     "grid":false,"tickSize":10,"tickColor":"black","tickWidth":2,"domainColor":"black","domainWidth":2,"labelFontSize":17,"labelColor":"black","labelPadding":-8,"labelFlush":false,
     "title":"Frequency [kHz]","titleFontSize":21,"titleFontWeight":"bold","titleColor":"black","titleX":256.5,"titleY":31,"titleBaseline":"middle","titleAlign":"center",
     "encode":{"ticks":{"update":{"y2":{"signal":"datum.value % 50 == 0 ? -10 : -6"},"strokeWidth":{"signal":"datum.value % 50 == 0 ? 2 : 1.5"}}}}}},
  "y":{"field":"p","type":"quantitative","scale":{"type":"log","domain":[1e-11,4e-5],"nice":false},
   "axis":{"values":[2e-11,3e-11,4e-11,5e-11,6e-11,7e-11,8e-11,9e-11,1e-10,2e-10,3e-10,4e-10,5e-10,6e-10,7e-10,8e-10,9e-10,1e-9,2e-9,3e-9,4e-9,5e-9,6e-9,7e-9,8e-9,9e-9,1e-8,2e-8,3e-8,4e-8,5e-8,6e-8,7e-8,8e-8,9e-8,1e-7,2e-7,3e-7,4e-7,5e-7,6e-7,7e-7,8e-7,9e-7,1e-6,2e-6,3e-6,4e-6,5e-6,6e-6,7e-6,8e-6,9e-6,1e-5,2e-5,3e-5],
     "labelExpr":"abs(log(datum.value)/LN10 - round(log(datum.value)/LN10)) < 0.001 ? '10' + ['⁻¹¹','⁻¹⁰','⁻⁹','⁻⁸','⁻⁷','⁻⁶','⁻⁵','⁻⁴'][round(log(datum.value)/LN10)+11] : ''","labelOverlap":false,
     "grid":false,"tickSize":10,"tickColor":"black","tickWidth":2,"domainColor":"black","domainWidth":2,"labelFontSize":17,"labelColor":"black","labelPadding":-5,
     "title":"PSD [kPa ²/Hz]","titleFontSize":21,"titleFontWeight":"bold","titleColor":"black","titleX":-47,"titleY":234.5,"titleAngle":-90,"titleBaseline":"middle","titleAlign":"center",
     "encode":{"ticks":{"update":{"x2":{"signal":"abs(log(datum.value)/LN10 - round(log(datum.value)/LN10)) < 0.001 ? 10 : 6"},"strokeWidth":{"signal":"abs(log(datum.value)/LN10 - round(log(datum.value)/LN10)) < 0.001 ? 2 : 1.5"}}}}}},
  "color":{"field":"s","type":"nominal",
   "scale":{"domain":["PCB-4 8.07","PCB-6 8.07","PCB-4 9.75","PCB-6 9.75","PCB-4 10.6","PCB-6 10.6","PCB-4 12.0","PCB-6 12.0"],
            "range":["#2828ff","#2828ff","#1ec41e","#1ec41e","#d41a1a","#d41a1a","#000000","#000000"]},
   "legend":{"orient":"none","legendX":161,"legendY":-14,"title":" ","titleFontSize":7,"titlePadding":0,
     "padding":14,"strokeColor":"black","fillColor":"white","rowPadding":0,"clipHeight":21.8,
     "symbolType":"M-1,0L1,0","symbolSize":6724,"symbolStrokeWidth":2.5,"symbolOffset":0,
     "labelFont":"Liberation Sans","labelFontSize":18,"labelFontWeight":"bold","labelColor":"black","labelOffset":12.6,"labelLimit":400,
     "labelExpr":"split(datum.label,' ')[0] + ', Re = ' + split(datum.label,' ')[1] + ' x 10⁶ /m'",
     "encode":{"symbols":{"update":{
        "shape":{"signal":"indexof(datum.value,'PCB-6') >= 0 ? 'M-1,0L1,0M0.09,0A0.09,0.09,0,1,1,-0.09,0A0.09,0.09,0,1,1,0.09,0Z' : 'M-1,0L1,0'"},
        "fill":{"signal":"scale('color', datum.value)"},
        "stroke":{"signal":"scale('color', datum.value)"},
        "opacity":{"value":1},"fillOpacity":{"value":1},"strokeOpacity":{"value":1}}},
       "legend":{"update":{"strokeWidth":{"value":1.5}}}}}
  }
 }},
{"data":{"name":"markers"},
 "mark":{"type":"point","filled":true,"size":70,"opacity":1,"clip":true},
 "encoding":{
  "x":{"field":"f","type":"quantitative","axis":null},
  "y":{"field":"p","type":"quantitative","axis":null},
  "color":{"field":"s","type":"nominal"}
 }}
],
"resolve":{"axis":{"x":"independent","y":"independent"}}
}
